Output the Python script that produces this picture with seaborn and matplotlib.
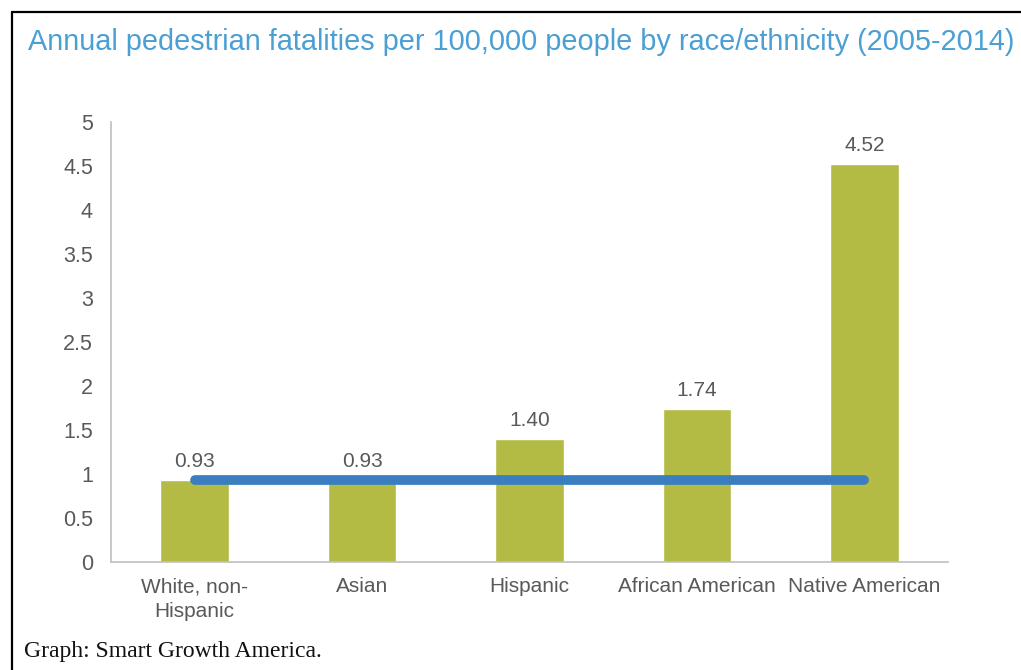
import matplotlib.pyplot as plt
import matplotlib.lines as mlines
import seaborn as sns
import pandas as pd

# Chart data
groups = ['White, non-\nHispanic', 'Asian', 'Hispanic', 'African American', 'Native American']
rates = [0.93, 0.93, 1.40, 1.74, 4.52]
rate_labels = ['0.93', '0.93', '1.40', '1.74', '4.52']
baseline = 0.93  # white, non-Hispanic rate drawn as a reference line

df = pd.DataFrame({'group': groups, 'rate': rates})

sns.set_style('white')
plt.rcParams['font.family'] = ['Liberation Sans', 'DejaVu Sans']

bar_color = '#b3bb45'
line_color = '#3a7ec0'
text_gray = '#595959'
axis_gray = '#bfbfbf'

fig = plt.figure(figsize=(10.21, 6.70), dpi=100)
ax = fig.add_axes([0.1087, 0.1612, 0.8198, 0.6567])

sns.barplot(data=df, x='group', y='rate', color=bar_color, width=0.41,
            saturation=1, ax=ax)

# reference line across the categories
ax.plot([0, len(groups) - 1], [baseline, baseline], color=line_color,
        linewidth=7, solid_capstyle='round', zorder=5)

# value labels above bars
for i, (v, lab) in enumerate(zip(rates, rate_labels)):
    ax.text(i, v + 0.1, lab, ha='center', va='bottom', fontsize=15, color=text_gray)

ax.set_ylim(0, 5)
ax.set_xlim(-0.5, len(groups) - 0.5)
ax.set_yticks([0, 0.5, 1, 1.5, 2, 2.5, 3, 3.5, 4, 4.5, 5])
ax.set_yticklabels(['0', '0.5', '1', '1.5', '2', '2.5', '3', '3.5', '4', '4.5', '5'])
ax.set_xlabel('')
ax.set_ylabel('')

# category boundary ticks like Excel
ax.set_xticks([i + 0.5 for i in range(-1, len(groups))], minor=True)
ax.tick_params(axis='x', which='major', length=0, pad=11, labelsize=15, labelcolor=text_gray)
ax.tick_params(axis='x', which='minor', length=7, width=1, color=axis_gray, direction='out')
ax.tick_params(axis='y', length=5, width=1, color=axis_gray, direction='out',
               labelsize=15.5, labelcolor=text_gray, pad=8)
for t in ax.get_xticklabels():
    t.set_linespacing(1.4)

for s in ['top', 'right']:
    ax.spines[s].set_visible(False)
for s in ['left', 'bottom']:
    ax.spines[s].set_color(axis_gray)
    ax.spines[s].set_linewidth(1.2)

fig.text(0.0274, 0.937, 'Annual pedestrian fatalities per 100,000 people by race/ethnicity (2005-2014)',
         fontsize=20.8, color='#4a9fd5', ha='left', va='center')

fig.text(0.0235, 0.027, 'Graph: Smart Growth America.', fontsize=17, color='#111111',
         family=['Liberation Serif', 'DejaVu Serif'], ha='left', va='center')

# frame lines from the screenshot
fig.add_artist(mlines.Line2D([0.0118, 0.0118], [0, 0.982], color='black', linewidth=1.6))
fig.add_artist(mlines.Line2D([0.0118, 1], [0.982, 0.982], color='black', linewidth=1.6))

fig.savefig('out.png', dpi=100)
